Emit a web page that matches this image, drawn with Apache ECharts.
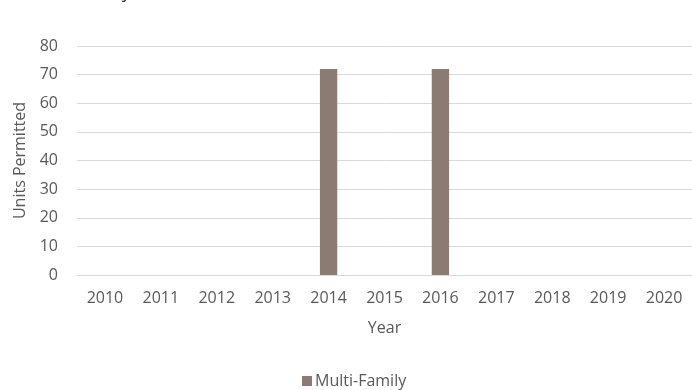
<!DOCTYPE html>
<html>
<head>
<meta charset="utf-8">
<script src="https://cdn.jsdelivr.net/npm/echarts@6/dist/echarts.min.js"></script>
<style>
  html, body { margin: 0; padding: 0; background: #ffffff; }
  #chart { width: 692px; height: 390px; }
</style>
</head>
<body>
<div id="chart"></div>
<script>
// Building permits by year
const years = ['2010', '2011', '2012', '2013', '2014', '2015', '2016', '2017', '2018', '2019', '2020'];
const multiFamily = [0, 0, 0, 0, 72, 0, 72, 0, 0, 0, 0];
const yTicks = { min: 0, max: 80, interval: 10 };

const font = '"Open Sans", "Liberation Sans", sans-serif';
const textColor = '#595959';

const chart = echarts.init(document.getElementById('chart'), null, { renderer: 'canvas' });
chart.setOption({
  animation: false,
  backgroundColor: '#ffffff',
  title: {
    text: 'Multi-Family',
    left: 18,
    top: -22,
    textStyle: { fontFamily: font, fontSize: 19, fontWeight: 'normal', color: '#1f2a44' }
  },
  grid: { left: 77, right: -8, top: 46, bottom: 115, containLabel: false },
  legend: {
    bottom: -4,
    left: 297,
    itemWidth: 10,
    itemHeight: 10,
    itemGap: 10,
    icon: 'rect',
    textStyle: { fontFamily: font, fontSize: 16, color: textColor, padding: [0, 0, 0, -2] },
    data: ['Multi-Family']
  },
  xAxis: {
    type: 'category',
    data: years,
    name: 'Year',
    nameLocation: 'middle',
    nameGap: 45,
    nameTextStyle: { fontFamily: font, fontSize: 16, color: textColor },
    axisLine: { lineStyle: { color: '#d9d9d9', width: 1 } },
    axisTick: { show: false },
    axisLabel: { fontFamily: font, fontSize: 16, color: textColor, margin: 15 }
  },
  yAxis: {
    type: 'value',
    min: yTicks.min,
    max: yTicks.max,
    interval: yTicks.interval,
    name: 'Units Permitted',
    nameLocation: 'middle',
    nameGap: 46,
    nameTextStyle: { fontFamily: font, fontSize: 16, color: textColor },
    axisLine: { show: false },
    axisTick: { show: false },
    axisLabel: { fontFamily: font, fontSize: 16, color: textColor, margin: 19 },
    splitLine: { lineStyle: { color: '#d9d9d9', width: 1 } }
  },
  series: [{
    name: 'Multi-Family',
    type: 'bar',
    data: multiFamily,
    barWidth: '31%',
    itemStyle: { color: '#8b7b72' }
  }]
});
</script>
</body>
</html>
